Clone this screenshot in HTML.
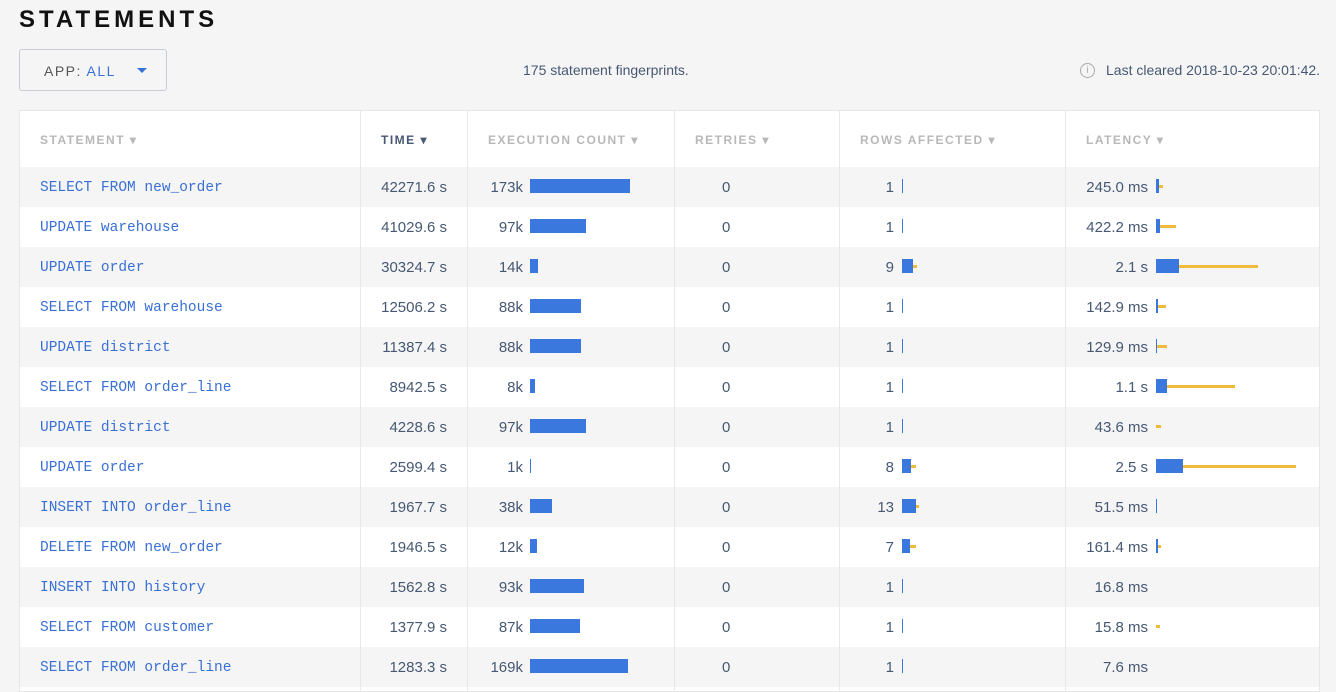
<!DOCTYPE html><html><head><style>
body{margin:0;width:1336px;height:692px;background:#f5f5f5;font-family:"Liberation Sans",sans-serif;overflow:hidden;position:relative;color:#475872}
.a{position:absolute}
h1{position:absolute;left:19px;top:6px;margin:0;font-size:24px;letter-spacing:4px;font-weight:bold;color:#111}
.btn{left:19px;top:49px;width:148px;height:42px;border:1px solid #c8ccd4;border-radius:3px;box-sizing:border-box}
.tbl{left:19px;top:110px;width:1301px;height:582px;background:#fff;border:1px solid #e6e6e6;box-sizing:border-box}
.row{position:absolute;left:20px;width:1299px;height:40px}
.g{background:#f5f5f5}
.v{position:absolute;top:0;width:1px;height:692px;background:#e8e8e8}
.st{position:absolute;left:40px;top:13px;font-family:"Liberation Mono",monospace;color:#3a70d6;font-size:14.5px}
.r{position:absolute;top:12px;text-align:right;font-size:15px}
.b{position:absolute;top:12px;height:14px;background:#3b78dd}
.y{position:absolute;top:18px;height:3px;background:#f0bb3c}
.hd{position:absolute;top:133px;font-size:12px;letter-spacing:1.5px;font-weight:bold;color:#b8b8b8}
</style></head><body>
<h1>STATEMENTS</h1>
<div class="a btn"><span class="a" style="left:24px;top:13px;font-size:14px;letter-spacing:1.5px;color:#555">APP: <span style="color:#3a70d6">ALL</span></span><span class="a" style="left:117px;top:18px;width:0;height:0;border-left:5px solid transparent;border-right:5px solid transparent;border-top:5px solid #3a70d6"></span></div>
<div class="a" style="left:523px;top:62px;font-size:14px;color:#475872">175 statement fingerprints.</div>
<div class="a" style="left:1080px;top:63px;width:15px;height:15px;border:1px solid #aaa;border-radius:50%;box-sizing:border-box;font-size:10px;text-align:center;line-height:13px;color:#aaa">i</div>
<div class="a" style="left:1106px;top:62px;font-size:14px;color:#475872">Last cleared 2018-10-23 20:01:42.</div>
<div class="a tbl"></div>
<div class="hd" style="left:40px">STATEMENT ▾</div>
<div class="hd" style="left:381px;color:#475872">TIME ▾</div>
<div class="hd" style="left:488px">EXECUTION COUNT ▾</div>
<div class="hd" style="left:695px">RETRIES ▾</div>
<div class="hd" style="left:860px">ROWS AFFECTED ▾</div>
<div class="hd" style="left:1086px">LATENCY ▾</div>

<div class="row g" style="top:167px"></div>
<div class="row g" style="top:247px"></div>
<div class="row g" style="top:327px"></div>
<div class="row g" style="top:407px"></div>
<div class="row g" style="top:487px"></div>
<div class="row g" style="top:567px"></div>
<div class="row g" style="top:647px"></div>
<div class="v" style="left:360px;top:111px;height:581px"></div>
<div class="v" style="left:467px;top:111px;height:581px"></div>
<div class="v" style="left:674px;top:111px;height:581px"></div>
<div class="v" style="left:839px;top:111px;height:581px"></div>
<div class="v" style="left:1065px;top:111px;height:581px"></div>

<div class="a" style="left:0;top:167px;width:1336px;height:40px"><span class="st">SELECT FROM new_order</span><span class="r" style="right:889px">42271.6 s</span><span class="r" style="right:813px">173k</span><span class="b" style="left:530px;width:100px"></span><span class="r" style="left:722px">0</span><span class="r" style="right:442px">1</span><span class="b" style="left:902px;width:1px"></span><span class="r" style="right:188px">245.0 ms</span><span class="b" style="left:1156px;width:3px"></span><span class="y" style="left:1159px;width:4px"></span></div>
<div class="a" style="left:0;top:207px;width:1336px;height:40px"><span class="st">UPDATE warehouse</span><span class="r" style="right:889px">41029.6 s</span><span class="r" style="right:813px">97k</span><span class="b" style="left:530px;width:56px"></span><span class="r" style="left:722px">0</span><span class="r" style="right:442px">1</span><span class="b" style="left:902px;width:1px"></span><span class="r" style="right:188px">422.2 ms</span><span class="b" style="left:1156px;width:4px"></span><span class="y" style="left:1160px;width:16px"></span></div>
<div class="a" style="left:0;top:247px;width:1336px;height:40px"><span class="st">UPDATE order</span><span class="r" style="right:889px">30324.7 s</span><span class="r" style="right:813px">14k</span><span class="b" style="left:530px;width:8px"></span><span class="r" style="left:722px">0</span><span class="r" style="right:442px">9</span><span class="b" style="left:902px;width:11px"></span><span class="y" style="left:913px;width:4px"></span><span class="r" style="right:188px">2.1 s</span><span class="b" style="left:1156px;width:23px"></span><span class="y" style="left:1179px;width:79px"></span></div>
<div class="a" style="left:0;top:287px;width:1336px;height:40px"><span class="st">SELECT FROM warehouse</span><span class="r" style="right:889px">12506.2 s</span><span class="r" style="right:813px">88k</span><span class="b" style="left:530px;width:51px"></span><span class="r" style="left:722px">0</span><span class="r" style="right:442px">1</span><span class="b" style="left:902px;width:1px"></span><span class="r" style="right:188px">142.9 ms</span><span class="b" style="left:1156px;width:2px"></span><span class="y" style="left:1158px;width:8px"></span></div>
<div class="a" style="left:0;top:327px;width:1336px;height:40px"><span class="st">UPDATE district</span><span class="r" style="right:889px">11387.4 s</span><span class="r" style="right:813px">88k</span><span class="b" style="left:530px;width:51px"></span><span class="r" style="left:722px">0</span><span class="r" style="right:442px">1</span><span class="b" style="left:902px;width:1px"></span><span class="r" style="right:188px">129.9 ms</span><span class="b" style="left:1156px;width:1px"></span><span class="y" style="left:1157px;width:10px"></span></div>
<div class="a" style="left:0;top:367px;width:1336px;height:40px"><span class="st">SELECT FROM order_line</span><span class="r" style="right:889px">8942.5 s</span><span class="r" style="right:813px">8k</span><span class="b" style="left:530px;width:5px"></span><span class="r" style="left:722px">0</span><span class="r" style="right:442px">1</span><span class="b" style="left:902px;width:1px"></span><span class="r" style="right:188px">1.1 s</span><span class="b" style="left:1156px;width:11px"></span><span class="y" style="left:1167px;width:68px"></span></div>
<div class="a" style="left:0;top:407px;width:1336px;height:40px"><span class="st">UPDATE district</span><span class="r" style="right:889px">4228.6 s</span><span class="r" style="right:813px">97k</span><span class="b" style="left:530px;width:56px"></span><span class="r" style="left:722px">0</span><span class="r" style="right:442px">1</span><span class="b" style="left:902px;width:1px"></span><span class="r" style="right:188px">43.6 ms</span><span class="y" style="left:1156px;width:5px"></span></div>
<div class="a" style="left:0;top:447px;width:1336px;height:40px"><span class="st">UPDATE order</span><span class="r" style="right:889px">2599.4 s</span><span class="r" style="right:813px">1k</span><span class="b" style="left:530px;width:1px"></span><span class="r" style="left:722px">0</span><span class="r" style="right:442px">8</span><span class="b" style="left:902px;width:9px"></span><span class="y" style="left:911px;width:5px"></span><span class="r" style="right:188px">2.5 s</span><span class="b" style="left:1156px;width:27px"></span><span class="y" style="left:1183px;width:113px"></span></div>
<div class="a" style="left:0;top:487px;width:1336px;height:40px"><span class="st">INSERT INTO order_line</span><span class="r" style="right:889px">1967.7 s</span><span class="r" style="right:813px">38k</span><span class="b" style="left:530px;width:22px"></span><span class="r" style="left:722px">0</span><span class="r" style="right:442px">13</span><span class="b" style="left:902px;width:14px"></span><span class="y" style="left:916px;width:3px"></span><span class="r" style="right:188px">51.5 ms</span><span class="b" style="left:1156px;width:1px"></span></div>
<div class="a" style="left:0;top:527px;width:1336px;height:40px"><span class="st">DELETE FROM new_order</span><span class="r" style="right:889px">1946.5 s</span><span class="r" style="right:813px">12k</span><span class="b" style="left:530px;width:7px"></span><span class="r" style="left:722px">0</span><span class="r" style="right:442px">7</span><span class="b" style="left:902px;width:8px"></span><span class="y" style="left:910px;width:6px"></span><span class="r" style="right:188px">161.4 ms</span><span class="b" style="left:1156px;width:2px"></span><span class="y" style="left:1158px;width:3px"></span></div>
<div class="a" style="left:0;top:567px;width:1336px;height:40px"><span class="st">INSERT INTO history</span><span class="r" style="right:889px">1562.8 s</span><span class="r" style="right:813px">93k</span><span class="b" style="left:530px;width:54px"></span><span class="r" style="left:722px">0</span><span class="r" style="right:442px">1</span><span class="b" style="left:902px;width:1px"></span><span class="r" style="right:188px">16.8 ms</span></div>
<div class="a" style="left:0;top:607px;width:1336px;height:40px"><span class="st">SELECT FROM customer</span><span class="r" style="right:889px">1377.9 s</span><span class="r" style="right:813px">87k</span><span class="b" style="left:530px;width:50px"></span><span class="r" style="left:722px">0</span><span class="r" style="right:442px">1</span><span class="b" style="left:902px;width:1px"></span><span class="r" style="right:188px">15.8 ms</span><span class="y" style="left:1156px;width:4px"></span></div>
<div class="a" style="left:0;top:647px;width:1336px;height:40px"><span class="st">SELECT FROM order_line</span><span class="r" style="right:889px">1283.3 s</span><span class="r" style="right:813px">169k</span><span class="b" style="left:530px;width:98px"></span><span class="r" style="left:722px">0</span><span class="r" style="right:442px">1</span><span class="b" style="left:902px;width:1px"></span><span class="r" style="right:188px">7.6 ms</span></div>
</body></html>
